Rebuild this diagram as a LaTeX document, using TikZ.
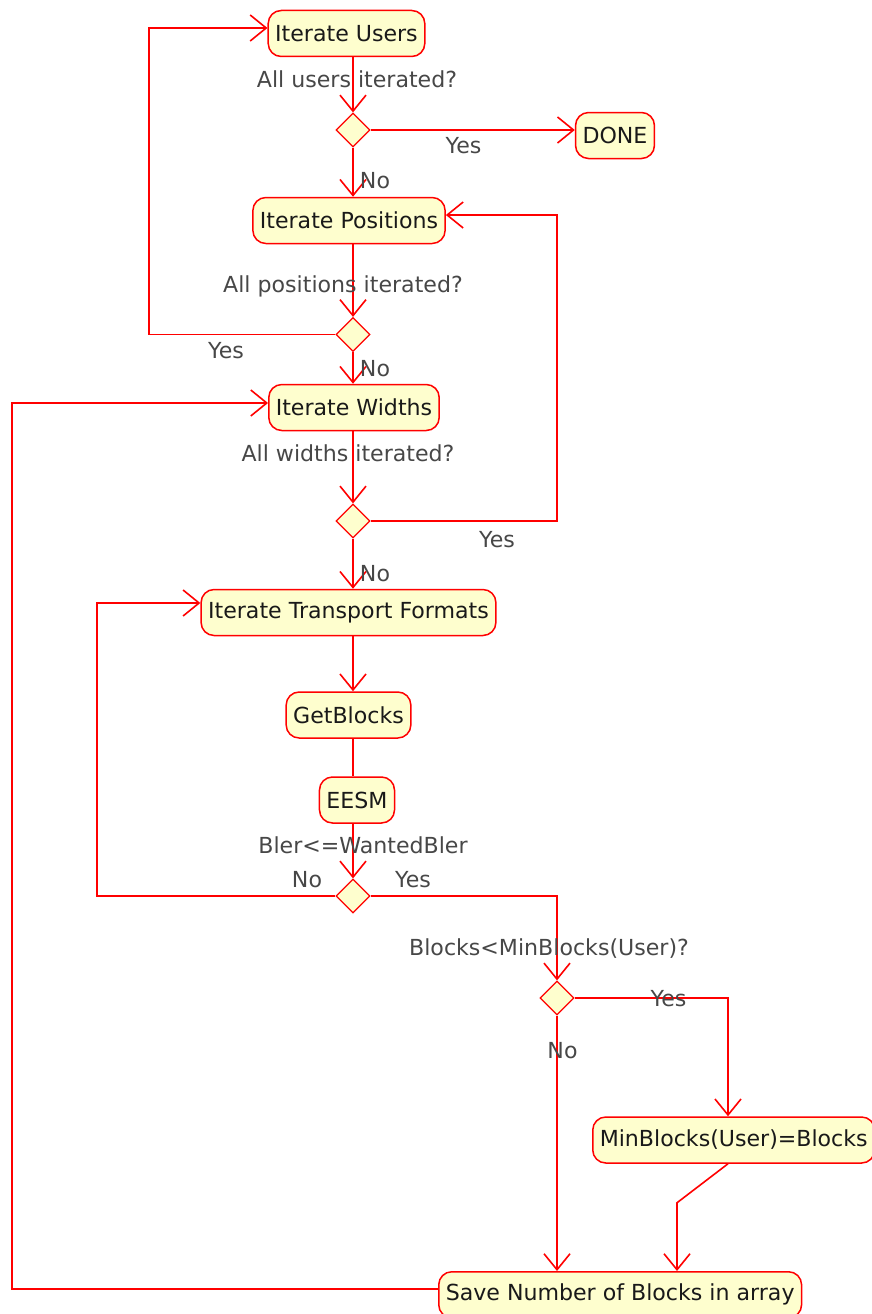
\documentclass[tikz,border=0pt]{standalone}
\usepackage{fontspec}
\setmainfont{DejaVu Sans}
\usetikzlibrary{shapes.geometric,arrows.meta}
\definecolor{umlred}{RGB}{255,0,0}
\definecolor{umlfill}{RGB}{254,254,206}

\begin{document}
\begin{tikzpicture}[x=1pt, y=-1pt, font=\fontsize{22.1}{26}\selectfont,
		act/.style={draw=umlred, fill=umlfill, rounded corners=13pt, line width=1.5pt, minimum height=46pt, inner xsep=7pt, text=black!90},
		branch/.style={diamond, draw=umlred, fill=umlfill, minimum width=34pt, minimum height=34pt, inner sep=0pt, line width=1.2pt},
		flow/.style={draw=umlred, line width=1.6pt, -{Straight Barb[length=16pt,width=26pt]}},
		plain/.style={draw=umlred, line width=1.6pt},
		lbl/.style={text=black!72, anchor=base}]
	\useasboundingbox (0,0) rectangle (872,1314);
	% activities
	\node[act] (users) at (346.5,33.5) {Iterate Users};
	\node[act] (done) at (615,135.5) {DONE};
	\node[act] (pos) at (349,220.5) {Iterate Positions};
	\node[act] (widths) at (354,407.5) {Iterate Widths};
	\node[act] (itf) at (348.5,612.5) {Iterate Transport Formats};
	\node[act] (getb) at (348.5,715) {GetBlocks};
	\node[act] (eesm) at (357,800) {EESM};
	\node[act, anchor=west] (minb) at (592,1140) {MinBlocks(User)=Blocks};
	\node[act, anchor=north west] (save) at (438,1271) {Save Number of Blocks in array};
	% decisions
	\node[branch] (d1) at (353,130) {};
	\node[branch] (d2) at (353,334.5) {};
	\node[branch] (d3) at (353,521) {};
	\node[branch] (d4) at (353,896) {};
	\node[branch] (d5) at (557,998) {};
	% entry points and rails
	\coordinate (usersIn) at ([yshift=5.5pt]users.west);
	\coordinate (posIn) at ([yshift=5.5pt]pos.east);
	\coordinate (widthsIn) at ([yshift=4.5pt]widths.west);
	\coordinate (itfIn) at ([yshift=9.5pt]itf.west);
	\coordinate (minIn) at ([xshift=136pt]minb.north west);
	\coordinate (saveIn) at ([xshift=239pt]save.north west);
	\coordinate (saveOut) at ([yshift=6pt]save.west);
	\coordinate (railU) at (149,0);
	\coordinate (railP) at (557,0);
	\coordinate (railW) at (12,0);
	\coordinate (railT) at (97,0);
	% flows
	\draw[flow] (d1 |- users.south) -- (d1.north);
	\draw[flow] (d1.east) -- (done.west |- d1);
	\draw[flow] (d1.south) -- (d1 |- pos.north);
	\draw[flow] (d2 |- pos.south) -- (d2.north);
	\draw[flow] (d2.west) -| (railU |- usersIn) -- (usersIn);
	\draw[flow] (d2.south) -- (d2 |- widths.north);
	\draw[flow] (d3 |- widths.south) -- (d3.north);
	\draw[flow] (d3.east) -| (railP |- posIn) -- (posIn);
	\draw[flow] (d3.south) -- (d3 |- itf.north);
	\draw[flow] (d3 |- itf.south) -- (d3 |- getb.north);
	\draw[plain] (d3 |- getb.south) -- (d3 |- eesm.north);
	\draw[flow] (d4 |- eesm.south) -- (d4.north);
	\draw[flow] (d4.west) -| (railT |- itfIn) -- (itfIn);
	\draw[flow] (d4.east) -| (d5.north);
	\draw[flow] (d5.east) -| (minIn);
	\draw[flow] (d5.south) -- (d5 |- save.north);
	\draw[flow] (minIn |- minb.south) -- ++(-51,39) -- (saveIn);
	\draw[flow] (saveOut) -| (railW |- widthsIn) -- (widthsIn);
	% guards
	\node[lbl] (g1) at (357,87) {All users iterated?};
	\node[lbl] (g1y) at (463.5,153) {Yes};
	\node[lbl] (g1n) at (375,188) {No};
	\node[lbl] (g2) at (343,292) {All positions iterated?};
	\node[lbl] (g2y) at (226,358) {Yes};
	\node[lbl] (g2n) at (375,376) {No};
	\node[lbl] (g3) at (348,461) {All widths iterated?};
	\node[lbl] (g3y) at (497,547) {Yes};
	\node[lbl] (g3n) at (375,581) {No};
	\node[lbl] (g4) at (363,853) {Bler<=WantedBler};
	\node[lbl] (g4n) at (307,887) {No};
	\node[lbl] (g4y) at (413,887) {Yes};
	\node[lbl] (g5) at (549,955) {Blocks<MinBlocks(User)?};
	\node[lbl] (g5y) at (668.5,1006) {Yes};
	\node[lbl] (g5n) at (562.5,1058) {No};
\end{tikzpicture}
\end{document}
